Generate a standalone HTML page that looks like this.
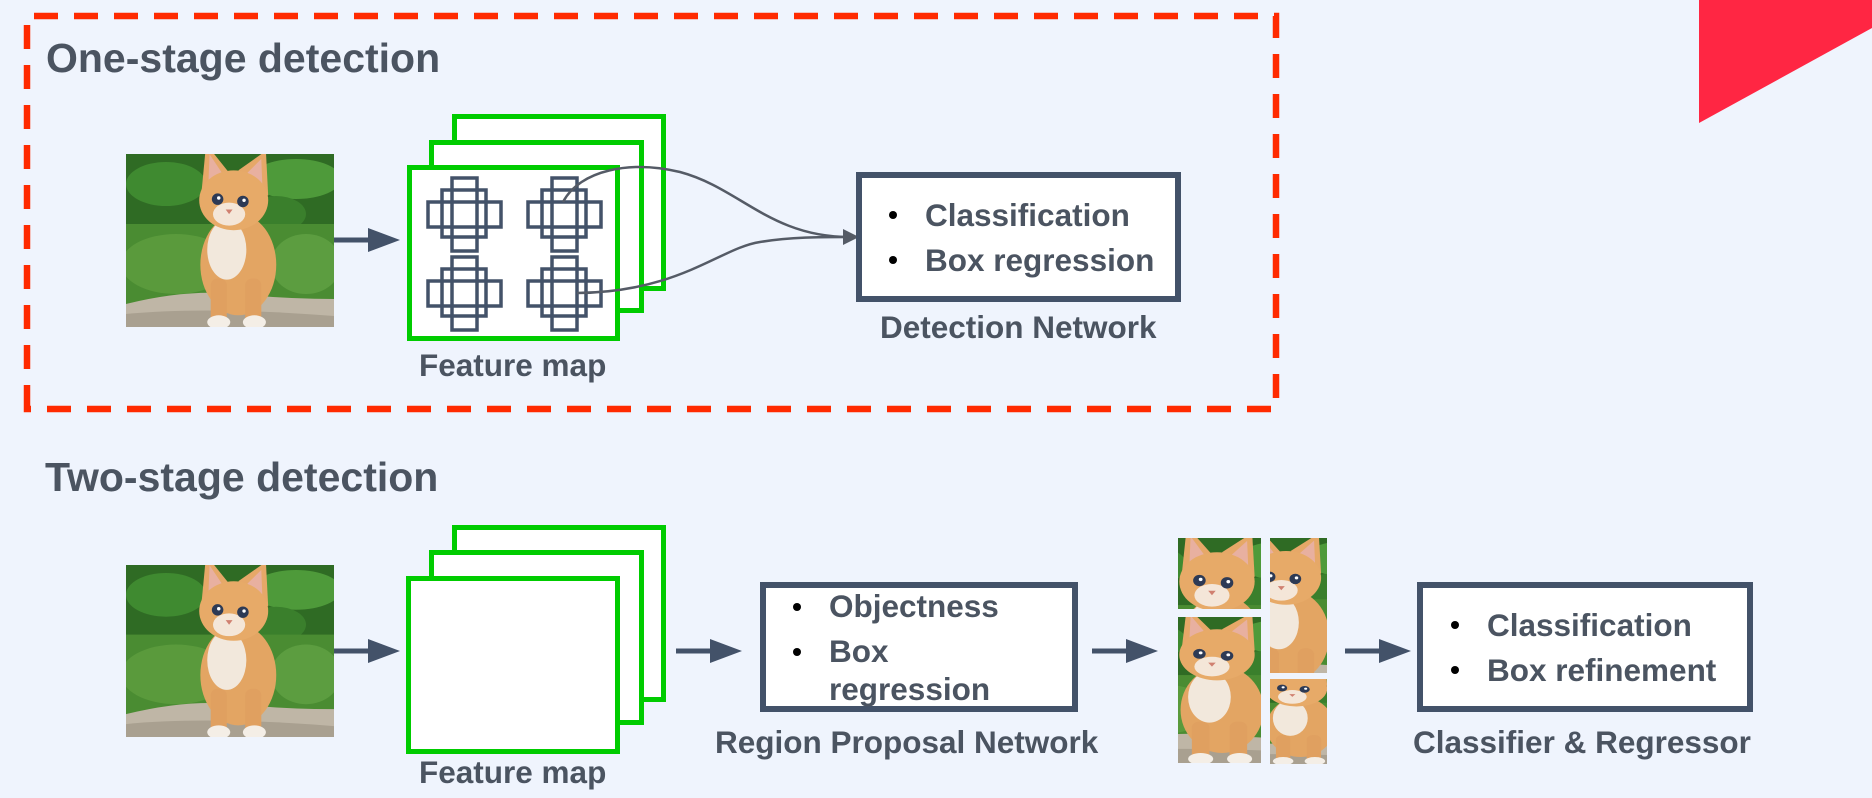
<!DOCTYPE html>
<html><head><meta charset="utf-8"><style>
html,body{margin:0;padding:0;background:#eff4fd;}
body{width:1872px;height:798px;overflow:hidden;position:relative;font-family:"Liberation Sans",Arial,sans-serif;font-weight:bold;}
svg{position:absolute;left:0;top:0;}
text{fill:#4b5461;font-family:"Liberation Sans",Arial,sans-serif;font-weight:bold;}
</style></head><body>
<svg width="1872" height="798" viewBox="0 0 1872 798" xmlns="http://www.w3.org/2000/svg">
<defs>
<symbol id="cat" viewBox="0 0 208 173" preserveAspectRatio="none">
<rect width="208" height="173" fill="#2f6b24"/>
<ellipse cx="40" cy="30" rx="40" ry="22" fill="#3f8a30"/>
<ellipse cx="170" cy="25" rx="45" ry="20" fill="#4e9a3a"/>
<ellipse cx="150" cy="60" rx="30" ry="18" fill="#3a7f2c"/>
<rect y="70" width="208" height="85" fill="#4a8c32"/>
<ellipse cx="50" cy="110" rx="55" ry="30" fill="#5a9a3c"/>
<ellipse cx="180" cy="110" rx="35" ry="30" fill="#5c9d40"/>
<path d="M0 150 Q60 135 110 140 T208 145 V173 H0Z" fill="#bfb6a6"/>
<path d="M0 160 Q80 152 208 162 V173 H0Z" fill="#a9a090"/>
<g transform="translate(110,90) scale(1.15) translate(-110,-90)">
<ellipse cx="112" cy="108" rx="33" ry="44" fill="#e3a563"/>
<rect x="88" y="120" width="14" height="40" rx="6" fill="#e0a060"/>
<rect x="118" y="120" width="14" height="40" rx="6" fill="#e0a060"/>
<ellipse cx="95" cy="158" rx="10" ry="6" fill="#f4eee6"/>
<ellipse cx="126" cy="158" rx="10" ry="6" fill="#f4eee6"/>
<ellipse cx="102" cy="95" rx="17" ry="26" fill="#f2e8dc"/>
<path d="M80 45 L84 3 L104 28Z" fill="#e6a868"/>
<path d="M86 38 L87 12 L99 30Z" fill="#e8b0a0"/>
<path d="M112 26 L136 9 L138 48Z" fill="#e6a868"/>
<path d="M118 30 L132 16 L133 42Z" fill="#e8b0a0"/>
<ellipse cx="108" cy="52" rx="30" ry="26" fill="#e7aa68"/>
<ellipse cx="104" cy="64" rx="14" ry="10" fill="#f4e6d8"/>
<circle cx="94" cy="51" r="5" fill="#2d3a55"/>
<circle cx="116" cy="53" r="5" fill="#2d3a55"/>
<circle cx="95" cy="50" r="1.5" fill="#fff"/>
<circle cx="117" cy="52" r="1.5" fill="#fff"/>
<path d="M101 60 L107 60 L104 64Z" fill="#d08070"/>
</g>
</symbol>
<g id="cr" fill="none" stroke="#435269" stroke-width="3.5">
<rect x="452" y="178" width="25" height="73"/>
<rect x="428" y="202" width="73" height="25"/>
<rect x="442" y="190" width="44" height="47"/>
</g>
<g id="arr" fill="#435269"><rect x="0" y="-2.5" width="36" height="5"/><path d="M34 -12 L66 0 L34 12Z"/></g>
</defs>

<path d="M27 409 V16 H1276 V409 Z" fill="none" stroke="#ff2a00" stroke-width="6.5" stroke-dasharray="24 16"/>
<path d="M1699 0 H1872 V28 L1699 123Z" fill="#ff2643"/>

<text x="46" y="72" font-size="41">One-stage detection</text>
<text x="45" y="491" font-size="41">Two-stage detection</text>

<use href="#cat" x="126" y="154" width="208" height="173"/>
<use href="#arr" transform="translate(334,240)"/>
<rect x="454.5" y="116.5" width="209" height="172" fill="#fff" stroke="#00cc00" stroke-width="5"/>
<rect x="431.5" y="142.5" width="210" height="168" fill="#fff" stroke="#00cc00" stroke-width="5"/>
<rect x="409.5" y="167.5" width="208" height="171" fill="#fff" stroke="#00cc00" stroke-width="5"/>
<use href="#cr"/>
<use href="#cr" transform="translate(100,0)"/>
<use href="#cr" transform="translate(0,79)"/>
<use href="#cr" transform="translate(100,79)"/>
<path d="M563 202 C580 170, 630 160, 680 172 C740 188, 770 237, 850 237" fill="none" stroke="#555b66" stroke-width="2.5"/>
<path d="M577 293 C680 292, 720 248, 760 242 C790 237, 820 237, 850 237" fill="none" stroke="#555b66" stroke-width="2.5"/>
<path d="M843 229 L859 237 L843 245Z" fill="#555b66"/>
<text x="419" y="376" font-size="31.5">Feature map</text>

<rect x="859" y="175" width="319" height="124" fill="#fff" stroke="#435269" stroke-width="6"/>
<circle cx="893" cy="215" r="4" fill="#000"/>
<circle cx="893" cy="260" r="4" fill="#000"/>
<text x="925" y="226" font-size="31.5">Classification</text>
<text x="925" y="271" font-size="31.5">Box regression</text>
<text x="880" y="338" font-size="31.5">Detection Network</text>

<use href="#cat" x="126" y="565" width="208" height="172"/>
<use href="#arr" transform="translate(334,651)"/>
<rect x="454.5" y="527.5" width="209" height="172" fill="#fff" stroke="#00cc00" stroke-width="5"/>
<rect x="431.5" y="552.5" width="210" height="170" fill="#fff" stroke="#00cc00" stroke-width="5"/>
<rect x="408.5" y="578.5" width="209" height="173" fill="#fff" stroke="#00cc00" stroke-width="5"/>
<text x="419" y="783" font-size="31.5">Feature map</text>

<use href="#arr" transform="translate(676,651)"/>
<rect x="763" y="585" width="312" height="124" fill="#fff" stroke="#435269" stroke-width="6"/>
<circle cx="797" cy="607" r="4" fill="#000"/>
<circle cx="797" cy="652" r="4" fill="#000"/>
<text x="829" y="617" font-size="31.5">Objectness</text>
<text x="829" y="662" font-size="31.5">Box</text>
<text x="829" y="700" font-size="31.5">regression</text>
<text x="715" y="753" font-size="31.5">Region Proposal Network</text>

<use href="#arr" transform="translate(1092,651)"/>
<svg x="1178" y="538" width="83" height="71" viewBox="72 2 76 72" preserveAspectRatio="none"><use href="#cat" width="208" height="173"/></svg>
<svg x="1178" y="617" width="83" height="146" viewBox="72 2 76 171" preserveAspectRatio="none"><use href="#cat" width="208" height="173"/></svg>
<svg x="1270" y="538" width="57" height="135" viewBox="92 2 56 150" preserveAspectRatio="none"><use href="#cat" width="208" height="173"/></svg>
<svg x="1270" y="679" width="57" height="85" viewBox="78 30 64 143" preserveAspectRatio="none"><use href="#cat" width="208" height="173"/></svg>

<use href="#arr" transform="translate(1345,651)"/>
<rect x="1420" y="585" width="330" height="124" fill="#fff" stroke="#435269" stroke-width="6"/>
<circle cx="1455" cy="625" r="4" fill="#000"/>
<circle cx="1455" cy="670" r="4" fill="#000"/>
<text x="1487" y="636" font-size="31.5">Classification</text>
<text x="1487" y="681" font-size="31.5">Box refinement</text>
<text x="1413" y="753" font-size="31.5">Classifier &amp; Regressor</text>
</svg>
</body></html>
